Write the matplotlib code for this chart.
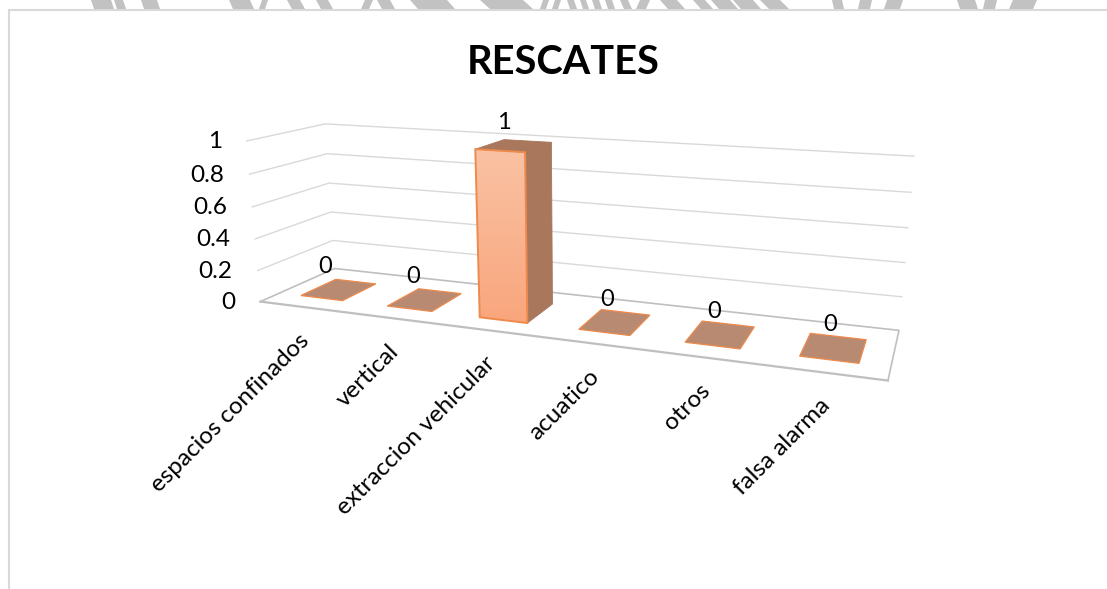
"""Rebuild of the RESCATES 3D column chart, drawn with a fitted camera projection."""

import matplotlib

matplotlib.use("Agg")
import matplotlib.pyplot as plt
import numpy as np
from matplotlib.patches import Polygon

WIDTH, HEIGHT = 1107, 589

CATEGORIES = [
    "espacios confinados",
    "vertical",
    "extraccion vehicular",
    "acuatico",
    "otros",
    "falsa alarma",
]
VALUES = [0, 0, 1, 0, 0, 0]
Y_TICKS = [0, 0.2, 0.4, 0.6, 0.8, 1]
Y_TICK_LABELS = ["0", "0.2", "0.4", "0.6", "0.8", "1"]
TITLE = "RESCATES"

# Camera calibration: box corners (category, depth, value) -> pixel position
BOX_CORNERS = [
    (0, 0, 0), (0, 1, 0), (6, 1, 0), (6, 0, 0),
    (0, 0, 1), (0, 1, 1), (6, 1, 1),
]
BOX_PIXELS = [
    (261, 302), (334, 268), (899, 331), (888, 380),
    (246, 141), (326, 124), (914, 156),
]

# Grey scraps of the page watermark above the chart frame (x start, x end, lean)
WATERMARK = [
    (91, 111, 3), (114, 123, 3), (141, 157, 3), (229, 250, 4), (262, 268, -3),
    (287, 300, 5), (316, 328, 5), (365, 373, -4), (377, 390, 5), (410, 447, 8),
    (480, 523, 10), (543, 549, -3), (555, 561, -3), (567, 574, 3), (580, 586, 3),
    (592, 599, 3), (605, 612, 3), (620, 628, 4), (640, 650, -4), (660, 677, 8),
    (693, 705, 8), (711, 730, 8), (733, 753, 8), (760, 780, 9), (832, 842, 2),
    (860, 872, -2), (887, 903, -3), (957, 975, 3), (985, 997, -2), (1013, 1037, -4),
]

COLOR_GRID = "#d9d9d9"
COLOR_FLOOR = "#bfbfbf"
COLOR_EDGE = "#ed8a4c"
COLOR_TOP = "#b98a72"
COLOR_SIDE = "#a8775c"
BAR_FRONT_TOP = (0.98, 0.76, 0.64)
BAR_FRONT_BOTTOM = (0.98, 0.65, 0.49)


def _fit_camera(corners, pixels):
    """Direct linear transform: 3x4 matrix from box corners to pixels."""
    rows = []
    for (x, y, z), (u, v) in zip(corners, pixels):
        rows.append([x, y, z, 1, 0, 0, 0, 0, -u * x, -u * y, -u * z, -u])
        rows.append([0, 0, 0, 0, x, y, z, 1, -v * x, -v * y, -v * z, -v])
    _, _, vh = np.linalg.svd(np.array(rows, dtype=float))
    return vh[-1].reshape(3, 4)


CAMERA = _fit_camera(BOX_CORNERS, BOX_PIXELS)


def project(x, y, z):
    """Project chart coordinates (category, depth, value) to pixels."""
    p = CAMERA @ np.array([x, y, z, 1.0])
    return p[0] / p[2], p[1] / p[2]


def draw_box_lines(ax):
    for tick in Y_TICKS[1:]:
        line = [project(0, 0, tick), project(0, 1, tick), project(6, 1, tick)]
        ax.plot(*zip(*line), color=COLOR_GRID, lw=1.0, zorder=1)
    floor = [project(0, 0, 0), project(0, 1, 0), project(6, 1, 0), project(6, 0, 0)]
    ax.plot(*zip(*floor), color=COLOR_FLOOR, lw=1.2, zorder=1)
    front = [project(0, 0, 0), project(6, 0, 0)]
    ax.plot(*zip(*front), color=COLOR_FLOOR, lw=1.6, zorder=1)


def draw_bar(ax, i, value, width=0.49, d0=0.24, d1=0.72):
    """One column; a zero value leaves just its flat top."""
    x0 = i + 0.5 - width / 2
    x1 = i + 0.5 + width / 2
    top = [project(x0, d0, value), project(x0, d1, value),
           project(x1, d1, value), project(x1, d0, value)]
    if value > 0:
        side = [project(x1, d0, 0), project(x1, d0, value),
                project(x1, d1, value), project(x1, d1, 0)]
        front = [project(x0, d0, 0), project(x0, d0, value),
                 project(x1, d0, value), project(x1, d0, 0)]
        ax.add_patch(Polygon(side, fc=COLOR_SIDE, ec=COLOR_SIDE, lw=0.6, zorder=3))
        xs, ys = zip(*front)
        gradient = np.linspace(0, 1, 64)[:, None, None]
        gradient = (1 - gradient) * np.array(BAR_FRONT_TOP) + gradient * np.array(
            BAR_FRONT_BOTTOM
        )
        image = ax.imshow(
            gradient,
            extent=(min(xs), max(xs), max(ys), min(ys)),
            aspect="auto",
            zorder=3,
        )
        patch = Polygon(front, fc="none", ec=COLOR_EDGE, lw=1.4, zorder=4)
        ax.add_patch(patch)
        image.set_clip_path(patch)
        ax.add_patch(Polygon(top, fc=COLOR_SIDE, ec=COLOR_SIDE, lw=0.6, zorder=3))
    else:
        ax.add_patch(Polygon(top, fc=COLOR_TOP, ec=COLOR_EDGE, lw=0.9, zorder=3))


def main():
    plt.rcParams["font.family"] = ["Lato", "DejaVu Sans"]
    fig = plt.figure(figsize=(WIDTH / 100, HEIGHT / 100), dpi=100)
    ax = fig.add_axes([0, 0, 1, 1])

    for x0, x1, lean in WATERMARK:
        ax.add_patch(
            Polygon(
                [(x0, 0), (x1, 0), (x1 + lean, 9), (x0 + lean, 9)],
                fc="#c2c2c2",
                ec="none",
            )
        )
    ax.add_patch(
        plt.Rectangle((8.5, 9.5), WIDTH, HEIGHT, fc="white", ec=COLOR_GRID, lw=1.5)
    )

    draw_box_lines(ax)
    for i, value in enumerate(VALUES):
        draw_bar(ax, i, value)
        x, y = project(i + 0.5, 0.48, value)
        ax.text(x - 14 + 2 * i, y - 23, str(value), fontsize=17, ha="center",
                va="center", color="black", zorder=5)

    for tick, label in zip(Y_TICKS, Y_TICK_LABELS):
        x, y = project(0, 0, tick)
        ax.text(x - 25, y + 1, label, fontsize=17.5, ha="right", va="center", zorder=5)

    for i, label in enumerate(CATEGORIES):
        x, y = project(i + 0.5, 0, 0)
        ax.text(x + 3, y + 30, label, fontsize=17.5, rotation=45, ha="right",
                va="center", rotation_mode="anchor", zorder=5)

    ax.text(563, 62, TITLE, fontsize=28.6, fontweight="bold", ha="center",
            va="center", zorder=5)

    ax.set_xlim(0, WIDTH)
    ax.set_ylim(HEIGHT, 0)
    ax.axis("off")
    fig.savefig("out.png", dpi=100)


if __name__ == "__main__":
    main()
